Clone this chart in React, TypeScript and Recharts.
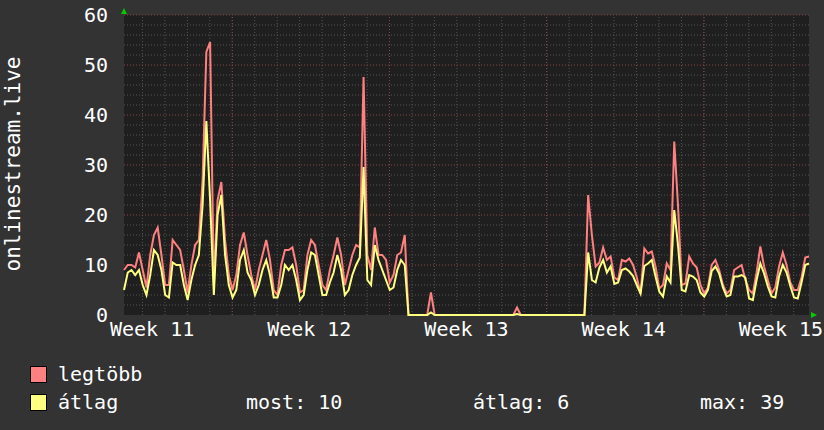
import React from 'react';
import { LineChart, Line, XAxis, YAxis, ReferenceLine, ReferenceArea } from 'recharts';

// one sample every 4 hours, starting at the left edge of the plot
const STEP_HOURS = 4;

// "legtöbb" (max) series
const LEGTOBB = [
  9, 10, 10, 9.5, 12.5, 9, 5.5, 12, 16, 17.5,
  12, 6, 6, 15, 14, 13, 9, 4.5, 10, 14,
  15, 27, 52.6, 54.6, 6, 23, 26.6, 15, 8, 5,
  8, 14, 16.5, 12, 8, 5, 9, 12, 15, 11,
  5, 4, 10, 13, 13, 13.5, 10, 4.5, 5, 12,
  15, 14, 10, 6, 5, 9, 12, 15.5, 12, 6,
  9, 12, 14, 13.5, 47.6, 12, 9, 17.5, 12, 12,
  11, 6.5, 8, 12, 12.5, 16, 0, 0, 0, 0,
  0, 0, 4.5, 0, 0, 0, 0, 0, 0, 0,
  0, 0, 0, 0, 0, 0, 0, 0, 0, 0,
  0, 0, 0, 0, 0, 1.5, 0, 0, 0, 0,
  0, 0, 0, 0, 0, 0, 0, 0, 0, 0,
  0, 0, 0, 0, 24, 16, 9.7, 10.5, 13.5, 11,
  11.7, 7.5, 7, 11, 10.7, 11.3, 10, 7.5, 4.3, 13.3,
  12.3, 12.7, 9.7, 5.3, 6, 10.3, 9, 34.7, 22, 6,
  6.3, 11.7, 10.3, 9.5, 6, 4.3, 5.5, 10, 11, 9,
  6, 4.3, 5, 9, 9.5, 10, 7, 5, 4.3, 8.5,
  13.7, 9.7, 7, 4.3, 5.5, 9.7, 12.5, 10, 6.5, 5,
  5, 7.5, 11.5, 11.7,
];

// "átlag" (average) series
const ATLAG = [
  5, 8.5, 9, 8, 9, 6, 4, 8, 13, 12,
  9, 4, 3.5, 10.5, 10, 10, 6, 3, 7, 10,
  12, 22, 38.8, 23, 4, 20, 24, 12, 6, 3.5,
  5, 11, 13, 8.5, 7, 4, 6, 9, 11, 8,
  3.5, 3.5, 6, 10, 9, 10, 7, 3, 4, 9,
  12.5, 12, 8, 4, 4, 6.5, 8.5, 12, 9, 4,
  5, 8, 10, 11.5, 29.6, 7, 6, 14, 11, 9,
  7, 5, 5.5, 9, 11, 10, 0, 0, 0, 0,
  0, 0, 0.5, 0, 0, 0, 0, 0, 0, 0,
  0, 0, 0, 0, 0, 0, 0, 0, 0, 0,
  0, 0, 0, 0, 0, 0.2, 0, 0, 0, 0,
  0, 0, 0, 0, 0, 0, 0, 0, 0, 0,
  0, 0, 0, 0, 12.5, 7, 6.5, 9.5, 11, 8.5,
  9.7, 6.2, 6.5, 9, 9.3, 8.7, 7.8, 6, 4.3, 9.8,
  10.3, 11, 7.7, 4.7, 3.7, 7.7, 6.5, 21, 14, 5,
  4.7, 8, 7.7, 7, 4.5, 3.7, 5, 8.8, 9.7, 8.3,
  5.5, 3.7, 4, 7.7, 7.7, 8, 7.5, 3.3, 3, 7,
  10.3, 8.3, 5.7, 3.7, 3.5, 7.7, 10, 8.5, 5.8, 3.5,
  3.3, 6.5, 10, 10.3,
];

const WEEK_TICKS = [30, 198, 366, 534, 702];
const WEEK_LABELS = ['Week 11', 'Week 12', 'Week 13', 'Week 14', 'Week 15'];
const Y_TICKS = [0, 10, 20, 30, 40, 50, 60];

const X_END = 732;
const FIRST_DAY_LINE = 19.7;
const FIRST_WEEK_LINE = 115.7;

const FONT = '"DejaVu Sans Mono", monospace';
const PINK = '#ff8080';
const YELLOW = '#ffff80';

const data = LEGTOBB.map((v, i) => ({ h: i * STEP_HOURS, legtobb: v, atlag: ATLAG[i] }));

const dayLines: number[] = [];
for (let h = FIRST_DAY_LINE; h < X_END; h += 24) dayLines.push(h);
const weekLines: number[] = [];
for (let h = FIRST_WEEK_LINE; h < X_END; h += 168) weekLines.push(h);
const minorY: number[] = [];
for (let v = 2; v < 60; v += 2) if (v % 10 !== 0) minorY.push(v);

const App: React.FC = () => {
  return (
    <div style={{ position: 'absolute', left: 0, top: 0, width: 824, height: 430, background: '#333333', overflow: 'hidden', fontFamily: FONT, color: '#ffffff' }}>
      <LineChart width={824} height={430} data={data} margin={{ top: 15, right: 15, bottom: 0, left: 0 }}>
        <XAxis
          type="number"
          dataKey="h"
          domain={[0, X_END]}
          ticks={WEEK_TICKS}
          interval={0}
          tickFormatter={(v: number) => WEEK_LABELS[WEEK_TICKS.indexOf(v)] ?? ''}
          height={115}
          axisLine={false}
          tickLine={false}
          tickSize={0}
          tickMargin={7}
          tick={{ fill: '#ffffff', fontSize: 20, fontFamily: FONT }}
        />
        <YAxis
          type="number"
          domain={[0, 60]}
          ticks={Y_TICKS}
          interval={0}
          width={124}
          axisLine={false}
          tickLine={false}
          tickSize={0}
          tickMargin={16}
          tick={{ fill: '#ffffff', fontSize: 20, fontFamily: FONT }}
        />
        <ReferenceArea x1={0} x2={X_END} y1={0} y2={60} fill="#1f1f1f" fillOpacity={1} stroke="none" />
        {minorY.map(v => (
          <ReferenceLine key={`my${v}`} y={v} stroke="#555555" strokeDasharray="1 2" />
        ))}
        {dayLines.map(h => (
          <ReferenceLine key={`dx${h}`} x={h} stroke="#555555" strokeDasharray="1 2" />
        ))}
        {[10, 20, 30, 40, 50, 60].map(v => (
          <ReferenceLine key={`My${v}`} y={v} stroke="#8a4444" strokeDasharray="1 2" />
        ))}
        {weekLines.map(h => (
          <ReferenceLine key={`wx${h}`} x={h} stroke="#8a4444" strokeDasharray="1 2" />
        ))}
        <Line type="linear" dataKey="legtobb" stroke={PINK} strokeWidth={2} dot={false} isAnimationActive={false} />
        <Line type="linear" dataKey="atlag" stroke={YELLOW} strokeWidth={2} dot={false} isAnimationActive={false} />
      </LineChart>

      {/* rrdtool style axis arrows */}
      <svg width={824} height={430} style={{ position: 'absolute', left: 0, top: 0, pointerEvents: 'none' }}>
        <polygon points="121,14 127,14 124,8" fill="#00cc00" />
        <polygon points="811,312 811,318 817,315" fill="#00cc00" />
      </svg>

      <div style={{ position: 'absolute', left: 13, top: 164, transform: 'translate(-50%, -50%) rotate(-90deg)', fontSize: 21, whiteSpace: 'nowrap' }}>
        onlinestream.live
      </div>

      {/* legend */}
      <div style={{ position: 'absolute', left: 30, top: 366, width: 15, height: 15, background: PINK, border: '1px solid #000' }} />
      <div style={{ position: 'absolute', left: 30, top: 394, width: 15, height: 15, background: YELLOW, border: '1px solid #000' }} />
      <div style={{ position: 'absolute', left: 58, top: 362, fontSize: 20, lineHeight: '24px', whiteSpace: 'pre' }}>legtöbb</div>
      <div style={{ position: 'absolute', left: 58, top: 390, fontSize: 20, lineHeight: '24px', whiteSpace: 'pre' }}>átlag</div>
      <div style={{ position: 'absolute', left: 246, top: 390, fontSize: 20, lineHeight: '24px', whiteSpace: 'pre' }}>most: 10</div>
      <div style={{ position: 'absolute', left: 473, top: 390, fontSize: 20, lineHeight: '24px', whiteSpace: 'pre' }}>átlag: 6</div>
      <div style={{ position: 'absolute', left: 700, top: 390, fontSize: 20, lineHeight: '24px', whiteSpace: 'pre' }}>max: 39</div>
    </div>
  );
};

export default App;
